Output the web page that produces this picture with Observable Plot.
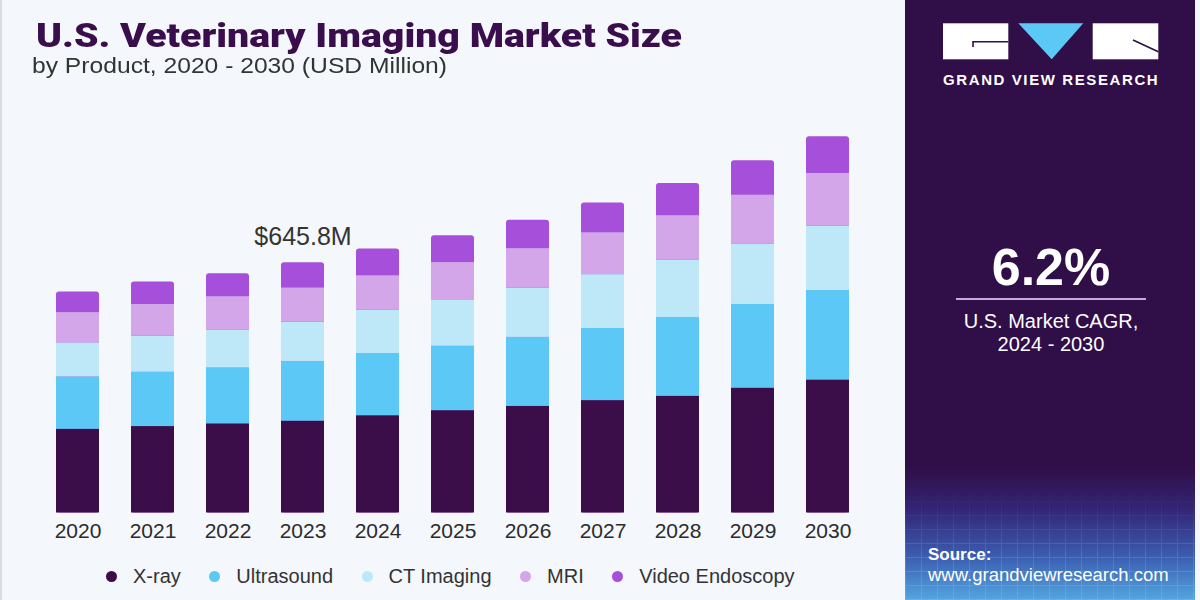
<!DOCTYPE html>
<html>
<head>
<meta charset="utf-8">
<script src="https://cdn.jsdelivr.net/npm/d3@7"></script>
<script src="https://cdn.jsdelivr.net/npm/@observablehq/plot@0.6"></script>
<style>
  body { margin: 0; }
  #root { position: relative; width: 1200px; height: 600px; background: #f4f7fb; overflow: hidden; font-family: "Liberation Sans", Arial, sans-serif; }
  #leftedge { position: absolute; left: 0; top: 0; width: 2px; height: 600px; background: #d9dde2; }
  #title { position: absolute; left: 36px; top: 18.9px; font-family: Roboto, "Liberation Sans", sans-serif; font-weight: 900; font-size: 33px; line-height: 33px; color: #3a0d4c; white-space: nowrap; transform-origin: left center; }
  #subtitle { position: absolute; left: 32px; top: 54.7px; font-size: 22px; line-height: 22px; color: #333; white-space: nowrap; transform-origin: left center; }
  #chart { position: absolute; left: 0; top: 100px; }
  #legend { position: absolute; left: 106px; top: 563px; display: flex; align-items: center; height: 26px; }
  .item { display: flex; align-items: center; margin-right: 28.5px; font-size: 20px; color: #333; white-space: nowrap; }
  .dot { width: 11px; height: 11px; border-radius: 50%; margin-right: 16px; }
  #panel { position: absolute; left: 905px; top: 0; width: 290px; height: 600px;
    background: linear-gradient(to bottom, #300e48 0%, #300e48 78%, #332676 85%, #3c5fb2 93%, #53a6df 100%); }
  #grid { position: absolute; left: 0; top: 490px; width: 290px; height: 110px; opacity: 0.12;
    -webkit-mask-image: linear-gradient(to bottom, transparent, #000 60%);
    mask-image: linear-gradient(to bottom, transparent, #000 60%);
    background-image: repeating-linear-gradient(90deg, #fff 0 1px, transparent 1px 16px), repeating-linear-gradient(0deg, #fff 0 1px, transparent 1px 14px); }
  .ptext { position: absolute; color: #fff; white-space: nowrap; }
</style>
</head>
<body>
<div id="root">
  <div id="leftedge"></div>
  <div id="title">U.S. Veterinary Imaging Market Size</div>
  <div id="subtitle">by Product, 2020 - 2030 (USD Million)</div>
  <div id="chart"></div>
  <div id="legend"></div>
  <div id="panel">
    <div id="grid"></div>
    <svg width="290" height="100" style="position:absolute;left:0;top:0">
      <rect x="38" y="23.3" width="65.3" height="36" fill="#ffffff"/>
      <path d="M68 47 V41.7 H103.3" fill="none" stroke="#300e48" stroke-width="1.6"/>
      <path d="M113.3 23.3 H178.3 L146.7 59.3 Z" fill="#5bc8f5"/>
      <rect x="187.7" y="23.3" width="65.6" height="36" fill="#ffffff"/>
      <path d="M228 40 L253.3 51.7" fill="none" stroke="#300e48" stroke-width="1.6"/>
    </svg>
    <div class="ptext" style="left:38px;top:72.3px;font-size:15px;line-height:15px;font-weight:bold;letter-spacing:1.6px;">GRAND VIEW RESEARCH</div>
    <div class="ptext" style="left:0;width:292px;text-align:center;top:241px;font-size:52px;line-height:52px;font-weight:bold;">6.2%</div>
    <div style="position:absolute;left:51px;top:298px;width:190px;height:2px;background:#c7a8e6;"></div>
    <div class="ptext" style="left:0;width:292px;text-align:center;top:309.7px;font-size:20px;line-height:23.4px;">U.S. Market CAGR,<br>2024 - 2030</div>
    <div class="ptext" style="left:23px;top:545.6px;font-size:17px;line-height:17px;font-weight:bold;">Source:</div>
    <div class="ptext" style="left:23px;top:566px;font-size:18.5px;line-height:18.5px;">www.grandviewresearch.com</div>
  </div>
</div>
<script>
const years = ["2020","2021","2022","2023","2024","2025","2026","2027","2028","2029","2030"];
const products = ["X-ray", "Ultrasound", "CT Imaging", "MRI", "Video Endoscopy"];
const colors = ["#3b0e4a", "#5bc8f5", "#bee8f8", "#d3a6ea", "#a54fda"];
const xray       = [216, 223, 230, 237,   251, 264, 275, 290, 301, 322, 343];
const ultrasound = [135, 140, 144, 154,   160, 166, 178, 186, 203, 216, 231];
const ctImaging  = [ 88,  93,  98, 101.4, 112, 120, 127, 139, 148, 156, 166];
const mri        = [ 78,  82,  86,  88,    89,  96, 102, 108, 115, 126, 136];
const video      = [ 53,  58,  59,  65.4,  69,  69,  73,  77,  83,  89,  95];
const highlightYear = "2023";
const highlightLabel = "$645.8M";

const seriesValues = [xray, ultrasound, ctImaging, mri, video];
const rows = [];
years.forEach((yr, i) => products.forEach((p, j) => rows.push({year: yr, product: p, value: seriesValues[j][i]})));
const totals = years.map((yr, i) => ({year: yr, total: seriesValues.reduce((s, a) => s + a[i], 0)}));
const lower = rows.filter(d => d.product !== "Video Endoscopy");

const chart = Plot.plot({
  width: 905,
  height: 450,
  marginLeft: 23.5,
  marginRight: 24,
  marginTop: 24.9,
  marginBottom: 37.5,
  style: {background: "transparent", fontFamily: "'Liberation Sans', Arial, sans-serif"},
  x: {domain: years, padding: 0.427, label: null},
  y: {domain: [0, 1000], axis: null},
  color: {domain: products, range: colors},
  marks: [
    Plot.barY(totals, {x: "year", y: "total", fill: colors[4], rx: 3}),
    Plot.barY(lower, Plot.stackY({x: "year", y: "value", fill: "product", order: products})),
    Plot.axisX({tickSize: 0, tickPadding: 10, fontSize: 21, color: "#2b2b2b", label: null}),
    Plot.text(totals.filter(d => d.year === highlightYear), {x: "year", y: "total", text: () => highlightLabel, fontSize: 25, fill: "#333", dy: -26})
  ]
});
document.getElementById("chart").appendChild(chart);

const legend = document.getElementById("legend");
products.forEach((p, i) => {
  const item = document.createElement("div");
  item.className = "item";
  const dot = document.createElement("span");
  dot.className = "dot";
  dot.style.background = colors[i];
  const label = document.createElement("span");
  label.textContent = p;
  item.appendChild(dot);
  item.appendChild(label);
  legend.appendChild(item);
});

// fit heading texts to the reference widths
function fit(id, target) {
  const el = document.getElementById(id);
  const w = el.getBoundingClientRect().width;
  el.style.transform = `scaleX(${target / w})`;
}
fit("title", 646);
fit("subtitle", 415);
</script>
</body>
</html>
